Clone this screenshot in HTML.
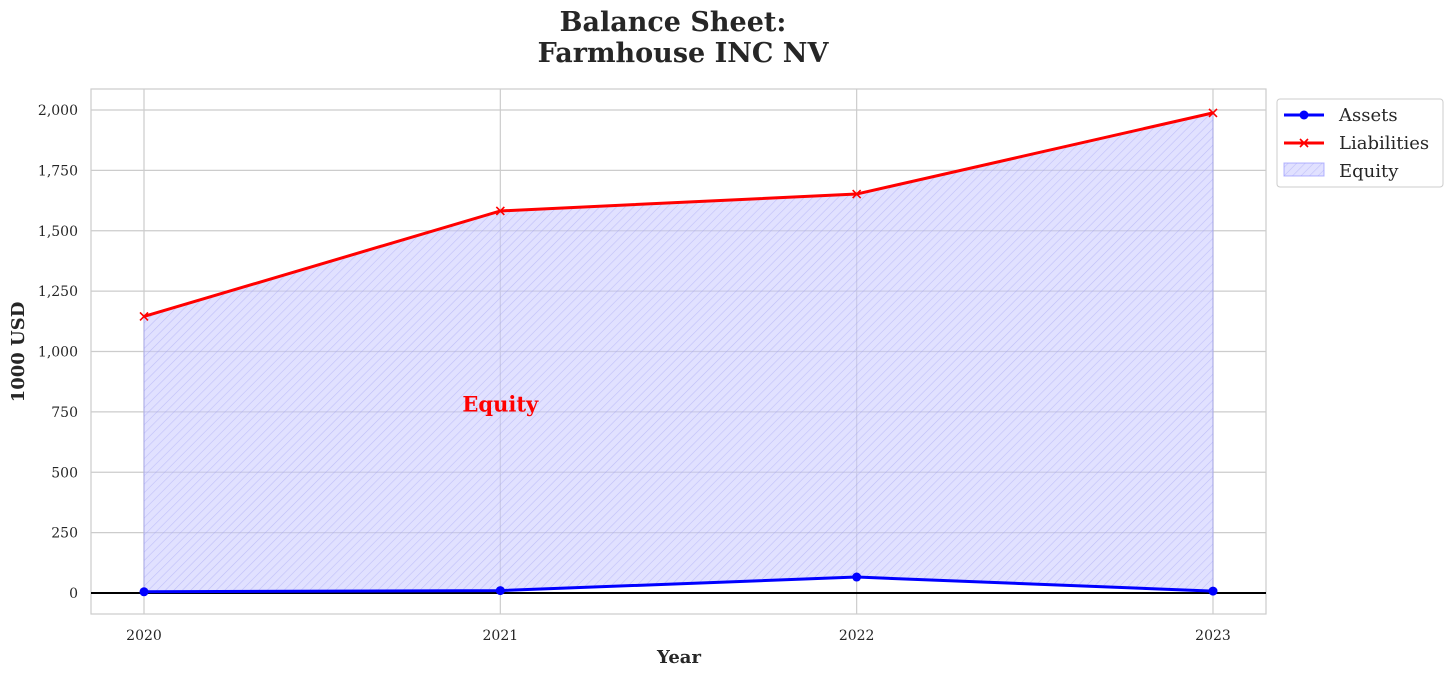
<!DOCTYPE html>
<html><head><meta charset="utf-8"><style>
body{margin:0;background:#fff;}
svg text{font-family:"DejaVu Serif","Liberation Serif",serif;fill:#262626;}
</style></head><body>
<svg id="chart" width="1454" height="676" xmlns="http://www.w3.org/2000/svg">
<defs>
<pattern id="hatch" patternUnits="userSpaceOnUse" width="6" height="6" patternTransform="rotate(45)">
<rect width="6" height="6" fill="rgba(200,200,255,0.55)"/>
<line x1="0" y1="0" x2="0" y2="6" stroke="rgba(150,150,240,0.45)" stroke-width="1.2"/>
</pattern>
</defs>
<text x="673" y="31" text-anchor="middle" font-size="27" font-weight="bold">Balance Sheet:</text>
<text x="683" y="62" text-anchor="middle" font-size="27" font-weight="bold">Farmhouse INC NV</text>
<rect x="91" y="89" width="1175" height="525" fill="#fff" stroke="#cccccc" stroke-width="1.2"/>
<g id="grid"></g>
<g id="marks"></g>
<text x="679" y="663" text-anchor="middle" font-size="18" font-weight="bold">Year</text>
<text transform="translate(24,352) rotate(-90)" text-anchor="middle" font-size="18" font-weight="bold">1000 USD</text>
<g>
<rect x="1277" y="99" width="166" height="88" rx="3" fill="#fff" stroke="#cccccc"/>
<g><line x1="1284" y1="115" x2="1324" y2="115" stroke="#0000ff" stroke-width="3"/><circle cx="1304" cy="115" r="4.5" fill="#0000ff"/><text x="1339" y="121" font-size="18">Assets</text></g>
<g><line x1="1284" y1="143" x2="1324" y2="143" stroke="#ff0000" stroke-width="3"/><path d="M1300 139 L1308 147 M1308 139 L1300 147" stroke="#ff0000" stroke-width="1.6"/><text x="1339" y="149" font-size="18">Liabilities</text></g>
<g><rect x="1284" y="163" width="40" height="13" fill="url(#hatch)" stroke="rgba(150,150,255,0.7)"/><text x="1339" y="177" font-size="18">Equity</text></g>
</g>
</svg>
<script>
const years=["2020","2021","2022","2023"];
const assets=[5,10,66,8];
const liabilities=[1145,1582,1652,1988];
const yTicks=[0,250,500,750,1000,1250,1500,1750,2000];
const NS="http://www.w3.org/2000/svg";
const x=i=>144+i*356.33;
const y=v=>593-v*0.2415;
const grid=document.getElementById('grid'),marks=document.getElementById('marks');
function mk(tag,attrs,parent){const e=document.createElementNS(NS,tag);for(const k in attrs)e.setAttribute(k,attrs[k]);parent.appendChild(e);return e;}
yTicks.forEach(t=>{
const l=mk('line',{x1:91,x2:1266,y1:y(t),y2:y(t),stroke:'#cccccc','stroke-width':1.2},grid);


const tx=mk('text',{x:78,y:y(t)+5,'text-anchor':'end','font-size':14},grid);
tx.textContent=t.toLocaleString('en-US');


});
years.forEach((yr,i)=>{
const l=mk('line',{x1:x(i),x2:x(i),y1:89,y2:614,stroke:'#cccccc','stroke-width':1.2},grid);


const tx=mk('text',{x:x(i),y:640,'text-anchor':'middle','font-size':14},grid);
tx.textContent=yr;


});
let d='M'+years.map((_,i)=>x(i)+' '+y(liabilities[i])).join(' L ');
for(let i=years.length-1;i>=0;i--)d+=' L '+x(i)+' '+y(assets[i]);
const area=mk('path',{d:d+' Z',fill:'url(#hatch)',stroke:'rgba(150,150,240,0.6)','stroke-width':1},marks);


const zl=mk('line',{x1:91,x2:1266,y1:y(0),y2:y(0),stroke:'#000','stroke-width':2},marks);


const la=mk('polyline',{points:years.map((_,i)=>x(i)+','+y(liabilities[i])).join(' '),fill:'none',stroke:'#ff0000','stroke-width':3},marks);


const aa=mk('polyline',{points:years.map((_,i)=>x(i)+','+y(assets[i])).join(' '),fill:'none',stroke:'#0000ff','stroke-width':3},marks);


years.forEach((_,i)=>{
const c=mk('circle',{cx:x(i),cy:y(assets[i]),r:4.5,fill:'#0000ff'},marks);


const X=x(i),Y=y(liabilities[i]);
const m=mk('path',{d:`M${X-4} ${Y-4} L${X+4} ${Y+4} M${X+4} ${Y-4} L${X-4} ${Y+4}`,stroke:'#ff0000','stroke-width':1.6},marks);


});
const lbl=mk('text',{x:x(1),y:y(780)+7,'text-anchor':'middle','font-size':21,'font-weight':'bold'},marks);
lbl.style.fill='#ff0000';
lbl.textContent='Equity';


</script>
</body></html>
